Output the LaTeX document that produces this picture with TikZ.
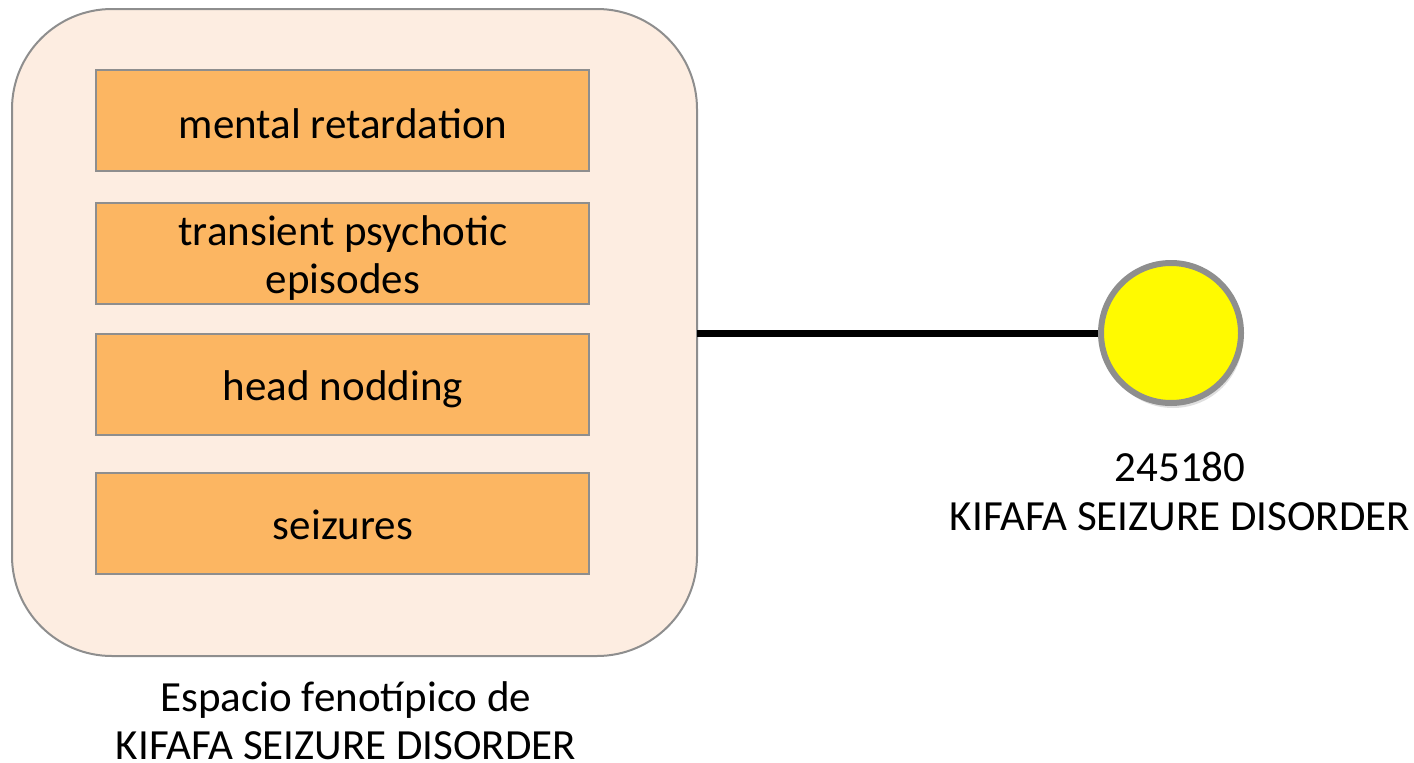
\documentclass[tikz,border=0pt]{standalone}
\usepackage{fontspec}
\setmainfont{Carlito}
\usetikzlibrary{shadows}
\definecolor{outerfill}{HTML}{FDEDE1}
\definecolor{boxfill}{HTML}{FCB662}
\definecolor{edgegray}{HTML}{8E8E8E}
\definecolor{disyellow}{HTML}{FFFA00}
\tikzset{
  outerbox/.style={draw=edgegray, line width=2pt, fill=outerfill, rounded corners=100pt},
  phenobox/.style={draw=edgegray, line width=2pt, fill=boxfill, minimum width=493pt, minimum height=101pt, inner sep=0pt},
  disease/.style={circle, draw=edgegray, line width=6pt, fill=disyellow, minimum size=140pt, inner sep=0pt, drop shadow={shadow xshift=2pt, shadow yshift=-5pt, opacity=0.25}},
  txt/.style={anchor=base, inner sep=0pt, font=\fontsize{43}{49}\selectfont},
  link/.style={line width=7pt, black}
}
\begin{document}
\begin{tikzpicture}[x=1pt,y=-1pt]
\useasboundingbox (0,0) rectangle (1414,763);
\draw[outerbox] (12,9) rectangle (697,656);
\coordinate (outerE) at (697,333);
\node[phenobox] (b1) at (342.5,120.5) {};
\node[phenobox] (b2) at (342.5,253.5) {};
\node[phenobox] (b3) at (342.5,384.5) {};
\node[phenobox] (b4) at (342.5,523.5) {};
\node[txt] (t1) at (343,138) {mental retardation};
\node[txt] (t2a) at (343,245) {transient psychotic};
\node[txt] (t2b) at (343,293) {episodes};
\node[txt] (t3) at (343,400) {head nodding};
\node[txt] (t4) at (343,539) {seizures};
\node[disease] (d) at (1171,333) {};
\draw[link] (outerE) -- (d.west);
\node[txt] (dl1) at (1180,481) {245180};
\node[txt] (dl2) at (1180,530) {KIFAFA SEIZURE DISORDER};
\node[txt] (sl1) at (346,711) {Espacio fenotípico de};
\node[txt] (sl2) at (346,759) {KIFAFA SEIZURE DISORDER};
\end{tikzpicture}
\end{document}
